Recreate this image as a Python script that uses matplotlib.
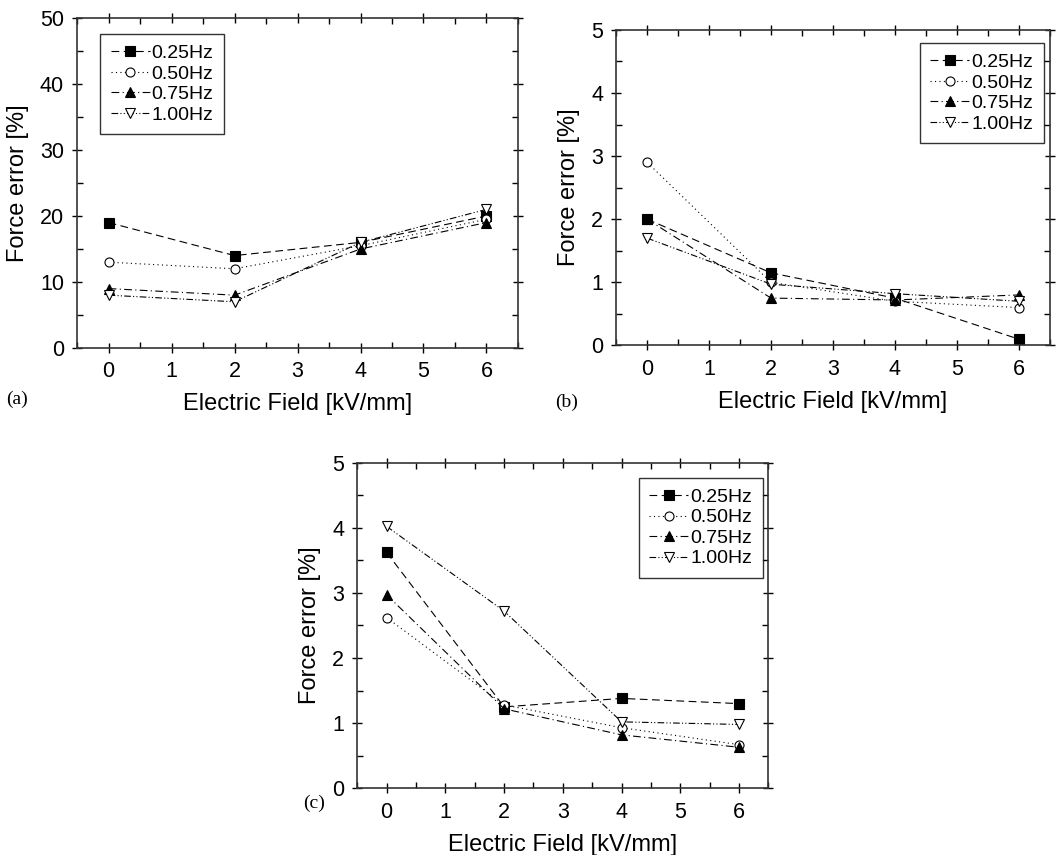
import matplotlib.pyplot as plt
from matplotlib.ticker import MultipleLocator

plt.rcParams['font.family'] = ['Liberation Sans', 'DejaVu Sans']

field = [0, 2, 4, 6]
freqs = ['0.25Hz', '0.50Hz', '0.75Hz', '1.00Hz']

# panel (a)
a_025 = [19, 14, 16, 20]
a_050 = [13, 12, 15.5, 19.5]
a_075 = [9, 8, 15, 19]
a_100 = [8, 7, 16, 21]

# panel (b)
b_025 = [2.0, 1.15, 0.75, 0.1]
b_050 = [2.9, 1.0, 0.7, 0.6]
b_075 = [2.0, 0.75, 0.72, 0.8]
b_100 = [1.7, 0.97, 0.82, 0.7]

# panel (c)
c_025 = [3.62, 1.25, 1.38, 1.3]
c_050 = [2.62, 1.28, 0.93, 0.67]
c_075 = [2.97, 1.22, 0.82, 0.63]
c_100 = [4.02, 2.72, 1.02, 0.98]

styles = [
    dict(marker='s', mfc='black', ls=(0, (7, 4))),
    dict(marker='o', mfc='white', ls=(0, (1, 3))),
    dict(marker='^', mfc='black', ls=(0, (7, 3, 1, 3))),
    dict(marker='v', mfc='white', ls=(0, (6, 2, 1, 2, 1, 2))),
]


def panel(fig, rect, series, ymax, ystep, legend_anchor, tag, tag_xy):
    ax = fig.add_axes(rect)
    for vals, name, st in zip(series, freqs, styles):
        ax.plot(field, vals, color='black', lw=0.8, ls=st['ls'],
                marker=st['marker'], mfc=st['mfc'], mec='black', mew=0.8,
                markersize=6.5, label=name)
    ax.set_xlim(-0.5, 6.5)
    ax.set_ylim(0, ymax)
    ax.xaxis.set_major_locator(MultipleLocator(1))
    ax.xaxis.set_minor_locator(MultipleLocator(0.5))
    ax.yaxis.set_major_locator(MultipleLocator(ystep))
    ax.yaxis.set_minor_locator(MultipleLocator(ystep / 2))
    ax.tick_params(which='major', direction='inout', length=7, width=1,
                   labelsize=15.5, pad=6)
    ax.tick_params(which='minor', direction='in', length=4, width=1)
    ax.tick_params(which='both', top=True, right=True)
    for s in ax.spines.values():
        s.set_linewidth(1.2)
        s.set_color('#333333')
    ax.set_xlabel('Electric Field [kV/mm]', fontsize=17, labelpad=8)
    ax.set_ylabel('Force error [%]', fontsize=17, labelpad=8)
    leg = ax.legend(loc='upper left', bbox_to_anchor=legend_anchor,
                    fontsize=14, frameon=True, fancybox=False,
                    edgecolor='black', handlelength=2.0, handletextpad=0.1,
                    labelspacing=0.15, borderpad=0.55, borderaxespad=0)
    leg.get_frame().set_linewidth(1.0)
    fig.text(tag_xy[0], tag_xy[1], tag, fontsize=14,
             family='Liberation Serif', ha='left', va='center')
    return ax


fig = plt.figure(figsize=(10.57, 8.55), dpi=100)

panel(fig, [0.073, 0.593, 0.417, 0.386], [a_025, a_050, a_075, a_100],
      50, 10, (0.052, 0.952), '(a)', (0.006, 0.533))
panel(fig, [0.583, 0.596, 0.410, 0.369], [b_025, b_050, b_075, b_100],
      5, 1, (0.70, 0.959), '(b)', (0.525, 0.530))
panel(fig, [0.338, 0.078, 0.389, 0.381], [c_025, c_050, c_075, c_100],
      5, 1, (0.684, 0.954), '(c)', (0.287, 0.061))

fig.savefig('out.png', dpi=100)
